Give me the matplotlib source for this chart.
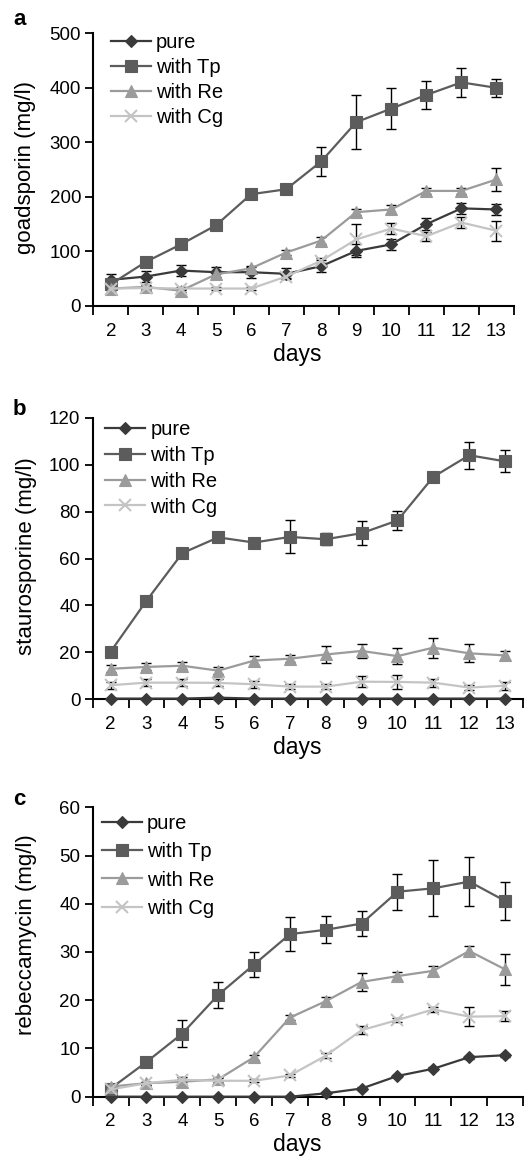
import matplotlib
matplotlib.use("Agg")
import matplotlib.pyplot as plt
import numpy as np
from matplotlib.ticker import FixedLocator, MultipleLocator

plt.rcParams['font.family'] = ['Liberation Sans', 'DejaVu Sans']

# ---------------- data ----------------
days = [2, 3, 4, 5, 6, 7, 8, 9, 10, 11, 12, 13]
series_names = ["pure", "with Tp", "with Re", "with Cg"]

# panel a: goadsporin (mg/l)
goad_pure = [48, 54, 65, 62, 62, 59, 73, 101, 113, 150, 179, 177]
goad_pure_err = [10, 10, 10, 10, 10, 10, 11, 12, 10, 11, 10, 10]
goad_tp = [40, 81, 113, 148, 205, 214, 265, 337, 362, 387, 410, 400]
goad_tp_err = [3, 3, 3, 3, 3, 4, 26, 49, 38, 25, 26, 16]
goad_re = [32, 35, 28, 58, 69, 98, 120, 172, 177, 211, 211, 232]
goad_re_err = [3, 3, 3, 4, 4, 4, 6, 6, 8, 6, 5, 21]
goad_cg = [32, 33, 32, 32, 32, 54, 83, 122, 142, 128, 153, 138]
goad_cg_err = [3, 3, 3, 3, 3, 3, 5, 28, 10, 8, 10, 18]

# panel b: staurosporine (mg/l)
stau_pure = [0.3, 0.3, 0.3, 0.7, 0.3, 0.3, 0.3, 0.3, 0.3, 0.3, 0.3, 0.3]
stau_pure_err = [0.2] * 12
stau_tp = [20.3, 42, 62.3, 69, 66.8, 69.2, 68.2, 70.8, 76.2, 94.8, 104, 101.4]
stau_tp_err = [1, 1, 2, 1.5, 2, 7, 2.5, 5, 4, 1.5, 5.7, 4.7]
stau_re = [13, 13.8, 14.3, 12.2, 16.5, 17.3, 19.1, 20.6, 18.4, 22, 19.6, 18.7]
stau_re_err = [1.5, 1.5, 1.5, 1.5, 1.8, 1.5, 3.5, 3, 3.5, 4.3, 3.8, 1.8]
stau_cg = [6, 7.1, 7.1, 7, 6.4, 5.4, 5.4, 7.5, 7.4, 7.1, 5, 5.8]
stau_cg_err = [1.5, 1.5, 1.5, 1.5, 1.5, 1.2, 1.2, 2.3, 2.8, 1.7, 1, 1.7]

# panel c: rebeccamycin (mg/l)
rebe_pure = [0, 0, 0, 0, 0, 0, 0.7, 1.7, 4.3, 5.8, 8.2, 8.6]
rebe_pure_err = [0, 0, 0, 0, 0, 0, 0.2, 0.3, 0.3, 0.3, 0.3, 0.3]
rebe_tp = [1.7, 7.2, 13.1, 21.1, 27.4, 33.7, 34.6, 35.9, 42.5, 43.2, 44.6, 40.6]
rebe_tp_err = [0.3, 0.5, 2.8, 2.7, 2.5, 3.5, 2.8, 2.5, 3.7, 5.8, 5.1, 4]
rebe_re = [2.1, 2.8, 3.1, 3.6, 8.2, 16.4, 19.8, 23.8, 25, 26.1, 30.2, 26.4]
rebe_re_err = [0.3, 0.3, 0.5, 0.5, 0.5, 0.5, 0.8, 1.8, 0.8, 1.0, 1.0, 3.2]
rebe_cg = [1.5, 2.8, 3.5, 3.3, 3.3, 4.4, 8.5, 13.8, 15.9, 18.1, 16.6, 16.7]
rebe_cg_err = [0.3, 0.3, 0.5, 0.5, 0.3, 0.3, 0.5, 0.8, 0.5, 0.5, 1.9, 1.0]

panel_letters = ["a", "b", "c"]
ylabels = ["goadsporin (mg/l)", "staurosporine (mg/l)", "rebeccamycin (mg/l)"]
ymax = [500, 120, 60]
ystep = [100, 20, 10]

# ---------------- style ----------------
colors = ["#3a3a3a", "#5c5c5c", "#9b9b9b", "#c4c4c4"]
markers = ["D", "s", "^", "x"]
msizes = [6, 9, 9, 8]

W, H = 525, 1159
fig = plt.figure(figsize=(W / 100, H / 100), dpi=100)

def rect(l, t, r, b):
    return [l / W, 1 - b / H, (r - l) / W, (b - t) / H]

ax_px = [(93.3, 33.3, 514, 306), (92.7, 417.7, 523, 699.3), (92.7, 807.3, 523, 1096.7)]
letter_px = [(13, 25), (13, 415), (13, 805)]
ylab_px = [(26, 167), (27, 556), (27, 935)]
leg_px = [(110.7, 33), (105, 420), (101.7, 814)]
leg_spacing = [0.30, 0.34, 0.46]

data = [
    [(goad_pure, goad_pure_err), (goad_tp, goad_tp_err), (goad_re, goad_re_err), (goad_cg, goad_cg_err)],
    [(stau_pure, stau_pure_err), (stau_tp, stau_tp_err), (stau_re, stau_re_err), (stau_cg, stau_cg_err)],
    [(rebe_pure, rebe_pure_err), (rebe_tp, rebe_tp_err), (rebe_re, rebe_re_err), (rebe_cg, rebe_cg_err)],
]

for p in range(3):
    l, t, r, b = ax_px[p]
    ax = fig.add_axes(rect(l, t, r, b))
    handles = []
    for s in range(4):
        vals, err = data[p][s]
        ax.errorbar(days, vals, yerr=err, fmt='none', ecolor='black',
                    elinewidth=1.0, capsize=3.5, capthick=1.0, zorder=2, clip_on=False)
        h, = ax.plot(days, vals, color=colors[s], lw=1.6, marker=markers[s],
                     ms=msizes[s], mfc=colors[s], mec=colors[s],
                     mew=1.5 if markers[s] == 'x' else 0.8,
                     zorder=3 + s, clip_on=False, label=series_names[s])
        handles.append(h)
    ax.set_xlim(1.5, 13.5)
    ax.set_ylim(0, ymax[p])
    ax.yaxis.set_major_locator(MultipleLocator(ystep[p]))
    ax.xaxis.set_major_locator(FixedLocator(days))
    ax.xaxis.set_minor_locator(FixedLocator(np.arange(1.5, 14, 1.0)))
    ax.tick_params(axis='x', which='major', length=0, pad=12, labelsize=13.5)
    ax.tick_params(axis='x', which='minor', length=6.5, width=1.3, direction='out')
    ax.tick_params(axis='y', which='major', length=5.8, width=1.3, direction='out',
                   pad=3, labelsize=13.5)
    for side in ['top', 'right']:
        ax.spines[side].set_visible(False)
    for side in ['left', 'bottom']:
        ax.spines[side].set_linewidth(1.5)
        ax.spines[side].set_color('black')

    # x label
    fig.text(297 / W, 1 - (b + 48) / H, "days", ha='center', va='center', fontsize=16.5)
    # y label
    yx, yy = ylab_px[p]
    fig.text(yx / W, 1 - yy / H, ylabels[p], rotation=90, ha='center', va='center',
             fontsize=16)
    # panel letter
    lx, ly = letter_px[p]
    fig.text(lx / W, 1 - ly / H, panel_letters[p], ha='left', va='baseline',
             fontsize=16, fontweight='bold')
    # legend
    gx, gy = leg_px[p]
    ax_w, ax_h = r - l, b - t
    ax.legend(handles=handles, loc='upper left',
              bbox_to_anchor=((gx - l) / ax_w, (b - gy) / ax_h),
              frameon=False, fontsize=14.5, handlelength=2.0, handletextpad=0.25,
              labelspacing=leg_spacing[p], borderpad=0, borderaxespad=0, numpoints=1)

fig.savefig("out.png", dpi=100)
